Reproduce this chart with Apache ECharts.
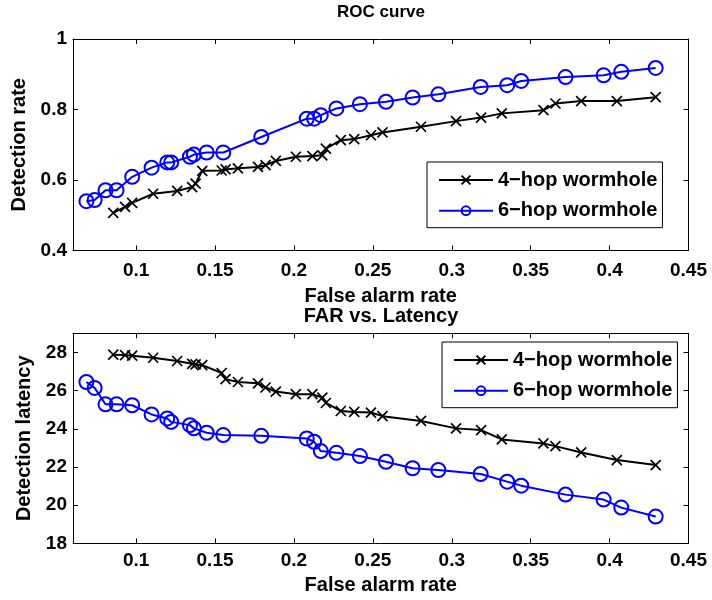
<!DOCTYPE html>
<html>
<head>
<meta charset="utf-8">
<script src="https://cdn.jsdelivr.net/npm/echarts@6/dist/echarts.min.js"></script>
<style>
  html, body { margin: 0; padding: 0; background: #fff; }
  #chart { width: 712px; height: 600px; }
</style>
</head>
<body>
<div id="chart"></div>
<script>
// False alarm rate of each operating point, 4-hop wormhole
const far4 = [0.0855, 0.093, 0.0975, 0.1108, 0.126, 0.1355, 0.1377, 0.1419, 0.1542, 0.1567,
              0.1645, 0.1772, 0.182, 0.1885, 0.2012, 0.2117, 0.218, 0.2202, 0.2297, 0.2382,
              0.2488, 0.2561, 0.2805, 0.3027, 0.3186, 0.3317, 0.3581, 0.3657, 0.382, 0.4046, 0.4292];
const rate4 = [0.507, 0.524, 0.535, 0.561, 0.569, 0.580, 0.590, 0.626, 0.627, 0.630,
               0.633, 0.637, 0.642, 0.654, 0.666, 0.668, 0.670, 0.689, 0.713, 0.716,
               0.727, 0.735, 0.751, 0.767, 0.777, 0.789, 0.798, 0.817, 0.824, 0.824, 0.835];
const lat4 = [27.88, 27.86, 27.83, 27.72, 27.55, 27.40, 27.37, 27.33, 26.92, 26.60,
              26.45, 26.38, 26.16, 25.95, 25.81, 25.81, 25.63, 25.35, 24.93, 24.88,
              24.85, 24.66, 24.41, 24.02, 23.93, 23.44, 23.23, 23.09, 22.76, 22.36, 22.10];

// 6-hop wormhole
const far6 = [0.0685, 0.0737, 0.0806, 0.0876, 0.0975, 0.1098, 0.1197, 0.1222, 0.1341, 0.1366,
              0.1447, 0.1552, 0.1793, 0.2081, 0.2128, 0.217, 0.2269, 0.2418, 0.2583, 0.2752,
              0.2915, 0.3183, 0.3351, 0.344, 0.3721, 0.3962, 0.4074, 0.4292];
const rate6 = [0.540, 0.543, 0.571, 0.571, 0.609, 0.635, 0.650, 0.650, 0.666, 0.672,
               0.678, 0.678, 0.722, 0.774, 0.774, 0.784, 0.803, 0.815, 0.822, 0.834,
               0.843, 0.864, 0.869, 0.881, 0.892, 0.897, 0.907, 0.918];
const lat6 = [26.45, 26.14, 25.28, 25.28, 25.23, 24.75, 24.54, 24.36, 24.19, 24.02,
              23.79, 23.67, 23.63, 23.49, 23.32, 22.83, 22.74, 22.57, 22.27, 21.93,
              21.84, 21.63, 21.23, 21.02, 20.55, 20.29, 19.87, 19.40];

const seriesNames = ['4\u2212hop wormhole', '6\u2212hop wormhole'];
const xTicks = [0.1, 0.15, 0.2, 0.25, 0.3, 0.35, 0.4, 0.45];
const rateTicks = [0.4, 0.6, 0.8, 1];
const latTicks = [18, 20, 22, 24, 26, 28];

const FONT = '"Liberation Sans", Arial, Helvetica, sans-serif';
const bold = (size) => ({ fontFamily: FONT, fontWeight: 'bold', fontSize: size, color: '#000' });

const zip = (xs, ys) => xs.map((x, i) => [x, ys[i]]);

const frameLine = { show: true, onZero: false, lineStyle: { color: '#000', width: 1 } };

function xAxes(grid, name, labelMargin, nameGap) {
  return [
    {
      gridIndex: grid, type: 'value', position: 'bottom', min: 0.06, max: 0.45,
      axisLine: frameLine,
      axisTick: { show: true, inside: true, length: 5, customValues: xTicks, lineStyle: { color: '#000' } },
      axisLabel: Object.assign({ customValues: xTicks, margin: labelMargin }, bold(19)),
      splitLine: { show: false },
      name: name, nameLocation: 'middle', nameGap: nameGap, nameTextStyle: bold(20)
    },
    {
      gridIndex: grid, type: 'value', position: 'top', min: 0.06, max: 0.45,
      axisLine: frameLine,
      axisTick: { show: true, inside: true, length: 5, customValues: xTicks, lineStyle: { color: '#000' } },
      axisLabel: { show: false },
      splitLine: { show: false }
    }
  ];
}

function yAxes(grid, min, max, ticks, name) {
  return [
    {
      gridIndex: grid, type: 'value', position: 'left', min: min, max: max,
      axisLine: frameLine,
      axisTick: { show: true, inside: true, length: 5, customValues: ticks, lineStyle: { color: '#000' } },
      axisLabel: Object.assign({ customValues: ticks, margin: 6 }, bold(19)),
      splitLine: { show: false },
      name: name, nameLocation: 'middle', nameGap: 39, nameRotate: 90, nameTextStyle: bold(20)
    },
    {
      gridIndex: grid, type: 'value', position: 'right', min: min, max: max,
      axisLine: frameLine,
      axisTick: { show: true, inside: true, length: 5, customValues: ticks, lineStyle: { color: '#000' } },
      axisLabel: { show: false },
      splitLine: { show: false }
    }
  ];
}

const crossMarker = {
  symbol: 'path://M0,0L10,10M0,10L10,0',
  symbolSize: 10,
  itemStyle: { color: '#000', borderColor: '#000', borderWidth: 1.7 },
  lineStyle: { color: '#000', width: 2 }
};
const circleMarker = {
  symbol: 'circle',
  symbolSize: 14,
  itemStyle: { color: 'rgba(0,0,0,0)', borderColor: '#0000ff', borderWidth: 2 },
  lineStyle: { color: '#0000ff', width: 2 }
};

function lineSeries(name, data, xi, yi, marker) {
  return Object.assign({
    name: name, type: 'line', data: data,
    xAxisIndex: xi, yAxisIndex: yi,
    showAllSymbol: true, animation: false, z: 3,
    emphasis: { disabled: true }
  }, marker);
}

function legendAt(left, top) {
  return {
    left: left, top: top, orient: 'vertical',
    padding: [8, 5, 7, 11],
    itemWidth: 54, itemHeight: 11, itemGap: 10.7,
    borderColor: '#000', borderWidth: 1, backgroundColor: '#fff',
    textStyle: Object.assign({ lineHeight: 18 }, bold(20)),
    selectedMode: false,
    data: seriesNames
  };
}

const chart = echarts.init(document.getElementById('chart'), null, { renderer: 'canvas' });
chart.setOption({
  backgroundColor: '#fff',
  animation: false,
  title: [
    { text: 'ROC curve', left: 381, top: 4, textAlign: 'center', padding: 0, textStyle: bold(17) },
    { text: 'FAR vs. Latency', left: 381, top: 306, textAlign: 'center', padding: 0, textStyle: bold(20) }
  ],
  grid: [
    { left: 73, right: 23.5, top: 39, height: 211.5 },
    { left: 73, right: 23.5, top: 333.3, height: 210 }
  ],
  xAxis: [].concat(xAxes(0, 'False alarm rate', 11, 36), xAxes(1, 'False alarm rate', 8, 32)),
  yAxis: [].concat(yAxes(0, 0.4, 1, rateTicks, 'Detection rate'),
                   yAxes(1, 18, 29, latTicks, 'Detection latency')),
  legend: [legendAt(427, 162), legendAt(442, 342)],
  series: [
    lineSeries(seriesNames[0], zip(far4, rate4), 0, 0, crossMarker),
    lineSeries(seriesNames[1], zip(far6, rate6), 0, 0, circleMarker),
    lineSeries(seriesNames[0], zip(far4, lat4), 2, 2, crossMarker),
    lineSeries(seriesNames[1], zip(far6, lat6), 2, 2, circleMarker)
  ]
});
</script>
</body>
</html>
